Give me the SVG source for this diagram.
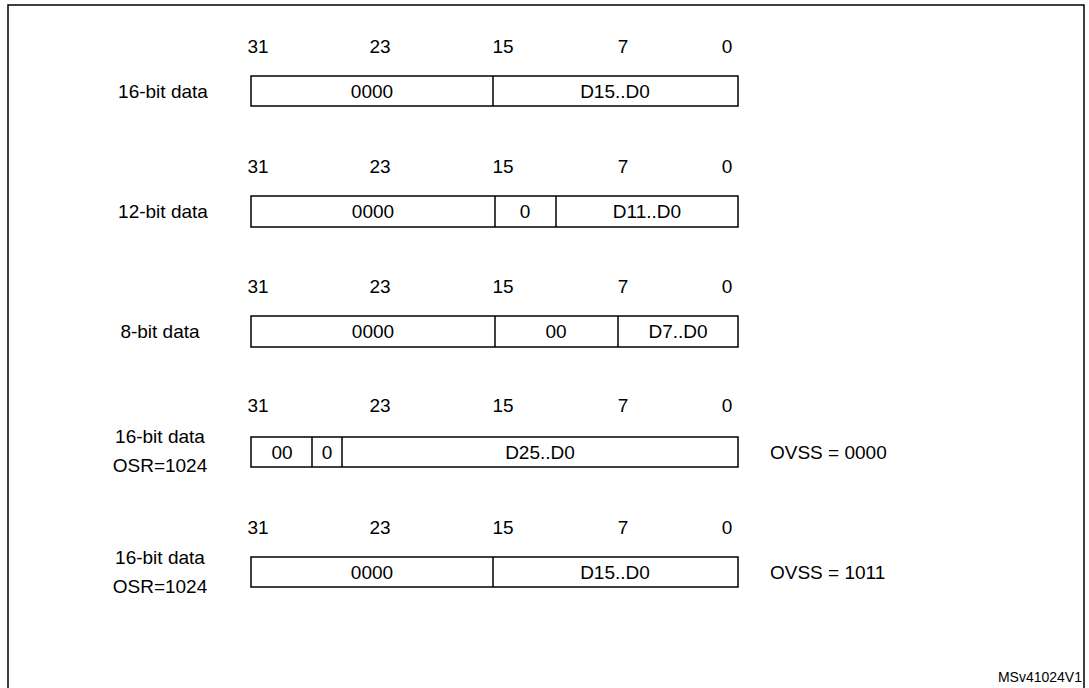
<svg xmlns="http://www.w3.org/2000/svg" width="1089" height="688" viewBox="0 0 1089 688">
<style>
text{font-family:"Liberation Sans",Arial,sans-serif;font-size:19px;fill:#000}
.n{text-anchor:middle}
.b{fill:#fff;stroke:#000;stroke-width:1.5}
.d{stroke:#000;stroke-width:1.5}
</style>
<rect x="0" y="0" width="1089" height="688" fill="#fff"/>
<path d="M8 688V5H1084V688" fill="none" stroke="#000" stroke-width="1.5"/>
<g id="row1">
<text class="n" x="258" y="53">31</text><text class="n" x="380" y="53">23</text><text class="n" x="503" y="53">15</text><text class="n" x="623" y="53">7</text><text class="n" x="727" y="53">0</text>
<text class="n" x="163" y="98">16-bit data</text>
<rect class="b" x="251" y="76" width="487" height="30"/><line class="d" x1="493" y1="76" x2="493" y2="106"/>
<text class="n" x="372" y="98">0000</text><text class="n" x="615" y="98">D15..D0</text>
</g>
<g id="row2">
<text class="n" x="258" y="173">31</text><text class="n" x="380" y="173">23</text><text class="n" x="503" y="173">15</text><text class="n" x="623" y="173">7</text><text class="n" x="727" y="173">0</text>
<text class="n" x="163" y="218">12-bit data</text>
<rect class="b" x="251" y="196" width="487" height="31"/><line class="d" x1="495" y1="196" x2="495" y2="227"/><line class="d" x1="556" y1="196" x2="556" y2="227"/>
<text class="n" x="373" y="218">0000</text><text class="n" x="525" y="218">0</text><text class="n" x="647" y="218">D11..D0</text>
</g>
<g id="row3">
<text class="n" x="258" y="293">31</text><text class="n" x="380" y="293">23</text><text class="n" x="503" y="293">15</text><text class="n" x="623" y="293">7</text><text class="n" x="727" y="293">0</text>
<text class="n" x="160" y="338">8-bit data</text>
<rect class="b" x="251" y="316" width="487" height="31"/><line class="d" x1="495" y1="316" x2="495" y2="347"/><line class="d" x1="618" y1="316" x2="618" y2="347"/>
<text class="n" x="373" y="338">0000</text><text class="n" x="556" y="338">00</text><text class="n" x="678" y="338">D7..D0</text>
</g>
<g id="row4">
<text class="n" x="258" y="412">31</text><text class="n" x="380" y="412">23</text><text class="n" x="503" y="412">15</text><text class="n" x="623" y="412">7</text><text class="n" x="727" y="412">0</text>
<text class="n" x="160" y="443">16-bit data</text><text class="n" x="160" y="472">OSR=1024</text>
<rect class="b" x="251" y="437" width="487" height="30"/><line class="d" x1="312" y1="437" x2="312" y2="467"/><line class="d" x1="342" y1="437" x2="342" y2="467"/>
<text class="n" x="282" y="459">00</text><text class="n" x="327" y="459">0</text><text class="n" x="540" y="459">D25..D0</text>
<text x="770" y="459">OVSS = 0000</text>
</g>
<g id="row5">
<text class="n" x="258" y="534">31</text><text class="n" x="380" y="534">23</text><text class="n" x="503" y="534">15</text><text class="n" x="623" y="534">7</text><text class="n" x="727" y="534">0</text>
<text class="n" x="160" y="564">16-bit data</text><text class="n" x="160" y="593">OSR=1024</text>
<rect class="b" x="251" y="557" width="487" height="30"/><line class="d" x1="493" y1="557" x2="493" y2="587"/>
<text class="n" x="372" y="579">0000</text><text class="n" x="615" y="579">D15..D0</text>
<text x="770" y="579">OVSS = 1011</text>
</g>
<text x="1082" y="682" style="font-size:14px;text-anchor:end">MSv41024V1</text>
</svg>
